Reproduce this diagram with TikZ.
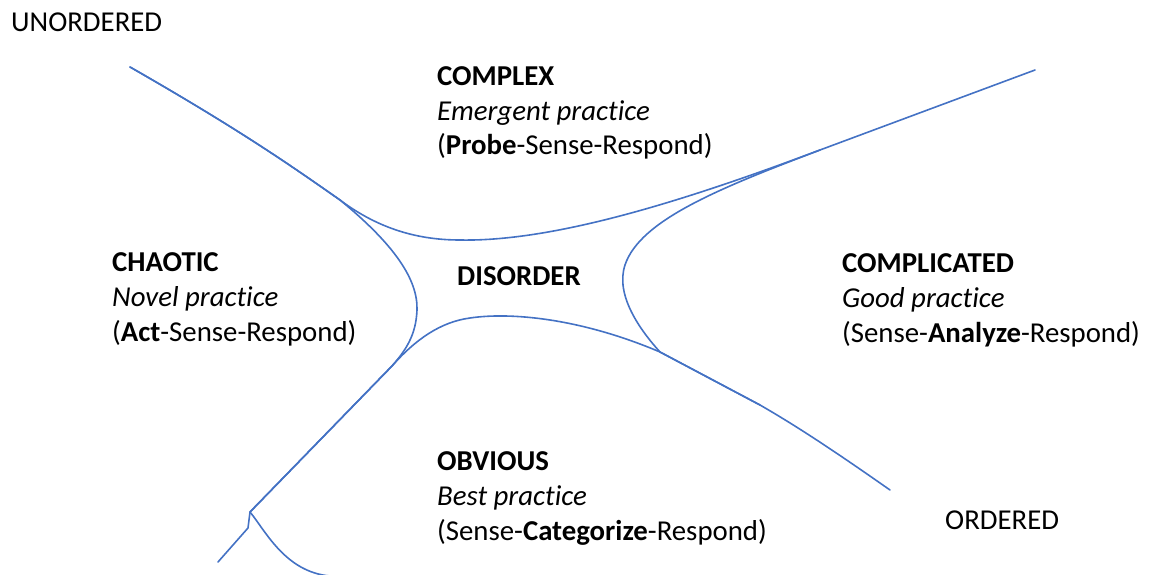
\documentclass[tikz,border=0pt]{standalone}
\usepackage{fontspec}
\setmainfont{Carlito}[Ligatures=NoCommon]
\usepackage{tikz}

\definecolor{edgeblue}{RGB}{68,114,196}
\tikzset{
  lbl/.style={anchor=base west, inner sep=0pt, font=\fontsize{28.8}{35}\selectfont},
  bound/.style={draw=edgeblue, line width=1.6pt, line cap=round, line join=round}
}

\begin{document}
\begin{tikzpicture}[x=1pt,y=-1pt]
\useasboundingbox (0,0) rectangle (1149,575);

% corners
\node[lbl] (unord) at (11,32) {UNORDERED};
\node[lbl] (ord) at (945,529) {ORDERED};

% domains
\node[lbl] (cx) at (437,86) {\textbf{COMPLEX}};
\node[lbl] (cxp) at (437,121) {\textit{Emergent practice}};
\node[lbl] (cxr) at (437,155) {(\textbf{Probe}-Sense-Respond)};

\node[lbl] (ch) at (112,271) {\textbf{CHAOTIC}};
\node[lbl] (chp) at (112,306) {\textit{Novel practice}};
\node[lbl] (chr) at (112,341) {(\textbf{Act}-Sense-Respond)};

\node[lbl] (dis) at (457,285) {\textbf{DISORDER}};

\node[lbl] (cd) at (842,272) {\textbf{COMPLICATED}};
\node[lbl] (cdp) at (842,307) {\textit{Good practice}};
\node[lbl] (cdr) at (842,342) {(Sense-\textbf{Analyze}-Respond)};

\node[lbl] (ob) at (437,470) {\textbf{OBVIOUS}};
\node[lbl] (obp) at (437,505) {\textit{Best practice}};
\node[lbl] (obr) at (437,540) {(Sense-\textbf{Categorize}-Respond)};

% shared points of the boundaries
\coordinate (tl) at (130,67);
\coordinate (split) at (340,200);
\coordinate (tr) at (1035,70);
\coordinate (join) at (820,150);
\coordinate (mid) at (392,366);
\coordinate (hook) at (250,512);
\coordinate (br) at (890,490);
\coordinate (merge) at (760,405);

% complex boundary
\path[bound] (tl) .. controls (240,130) and (290,165) .. (split)
  .. controls (380,230) and (420,240) .. (460,240)
  .. controls (560,242) and (700,195) .. (join) -- (tr);

% chaotic boundary
\path[bound] (tl) .. controls (240,130) and (290,165) .. (split)
  .. controls (395,245) and (418,280) .. (417,310)
  .. controls (416,335) and (406,350) .. (mid) -- (hook)
  -- (248,528) -- (218,562);

% complicated boundary
\path[bound] (join) .. controls (720,188) and (640,220) .. (625,265)
  .. controls (615,295) and (640,330) .. (660,352) -- (merge);

% obvious boundary
\path[bound] (br) .. controls (840,455) and (800,428) .. (merge)
  -- (660,352) .. controls (580,318) and (510,312) .. (470,318)
  .. controls (440,322) and (415,340) .. (mid) -- (hook)
  .. controls (265,530) and (285,572) .. (330,576);
\end{tikzpicture}
\end{document}
